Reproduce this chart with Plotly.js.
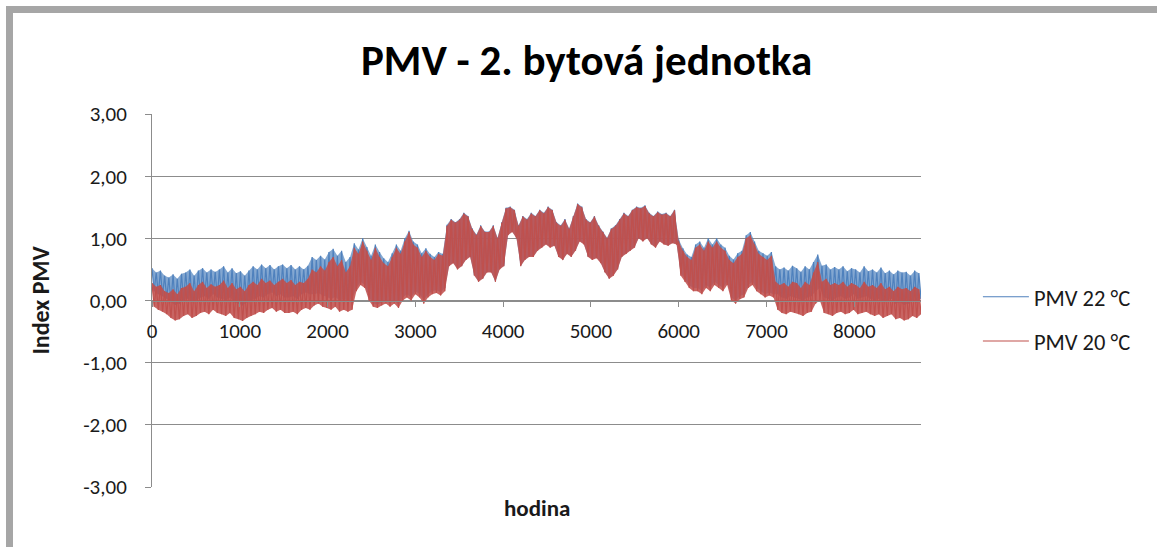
<!DOCTYPE html>
<html>
<head>
<meta charset="utf-8">
<script src="https://cdn.plot.ly/plotly-3.0.1.min.js"></script>
<style>
  html, body { margin: 0; padding: 0; background: #ffffff; }
  #frame { position: absolute; left: 6px; top: 6px; width: 1200px; height: 600px;
           border-left: 7px solid #a6a6a6; border-top: 7px solid #a6a6a6; box-sizing: border-box; }
  #chart { position: absolute; left: 0; top: 0; width: 1157px; height: 547px; }
</style>
</head>
<body>
<div id="frame"></div>
<div id="chart"></div>
<script>
// Hour step between daily max / min readings
const stepHours = 24;

// PMV 20 °C – daily maxima and minima (every 48 h)
const pmv20Max = [0.28,0.22,0.25,0.15, 0.12,0.18,0.10,0.20, 0.22,0.28,0.15,0.25, 0.30,0.20,0.26,0.22,
 0.25,0.32,0.20,0.28, 0.18,0.22,0.15,0.25, 0.30,0.25,0.35,0.28, 0.32,0.25,0.30,0.35, 0.28,0.33,0.25,0.30,
 0.28,0.35, 0.50,0.45,0.55,0.48, 0.62,0.70,0.55,0.65, 0.45,0.55, 0.85,0.75,0.95, 0.80,0.65,0.85,0.70,0.60,
 0.55,0.70,0.85,0.75, 0.95,1.10,0.90, 0.85,0.70,0.80, 0.70,0.65,0.75,0.72, 1.20,1.30,1.25,1.30, 1.40,1.35,
 1.15,1.05,1.20,1.10, 1.10,1.20,1.00,1.25, 1.48,1.50,1.45, 1.20,1.35,1.30, 1.40,1.35,1.45,1.40,1.50,1.45,
 1.25,1.20,1.30,1.15,1.35, 1.55,1.50, 1.30,1.25,1.35,1.20, 1.10,1.00,1.15,1.20, 1.30,1.40,1.35,1.45,
 1.50,1.48,1.52, 1.40,1.35,1.42,1.38,1.40,1.35,1.45, 0.95,0.80,0.70,0.65, 0.85,0.90,0.80,0.95,0.85,
 0.95,0.85,0.80, 0.65,0.60,0.70,0.75, 1.00,1.05,0.90, 0.75,0.70,0.65,0.72, 0.30,0.25,0.28,0.22,0.30,
 0.28,0.20,0.30,0.25, 0.45,0.62, 0.30,0.35,0.25,0.28, 0.25,0.30,0.22,0.28,0.25,0.20,0.30,0.22,
 0.25,0.20,0.28,0.18,0.22, 0.15,0.22,0.18, 0.20,0.15,0.22,0.18];

const pmv20Min = [-0.10,-0.15,-0.18,-0.22, -0.28,-0.32,-0.30,-0.25, -0.22,-0.28,-0.25,-0.20, -0.18,-0.22,-0.15,-0.20,
 -0.22,-0.25,-0.20,-0.28, -0.30,-0.33,-0.28,-0.25, -0.22,-0.18,-0.20,-0.15, -0.12,-0.18,-0.15,-0.20, -0.20,-0.18,-0.22,-0.15,
 -0.12,-0.15, -0.08,-0.05,-0.10,-0.12, -0.15,-0.10,-0.18,-0.15, -0.18,-0.15, 0.15,0.25,0.20, 0.00,-0.10,-0.12,-0.08,-0.05,
 -0.10,-0.05,-0.12,0.00, 0.05,0.00,0.10, 0.05,-0.05,0.05, 0.10,0.12,0.08,0.15, 0.55,0.60,0.50,0.55, 0.65,0.70,
 0.40,0.30,0.35,0.45, 0.45,0.30,0.50,0.55, 1.05,1.10,1.00, 0.55,0.65,0.70, 0.70,0.80,0.85,0.90,0.85,0.88,
 0.70,0.65,0.75,0.70,0.80, 0.95,0.90, 0.70,0.65,0.68,0.60, 0.45,0.35,0.40,0.50, 0.70,0.75,0.80,0.85,
 1.00,0.95,1.00, 0.90,0.85,0.95,0.90,0.88,0.92,0.90, 0.40,0.30,0.20,0.15, 0.15,0.10,0.20,0.15,0.25,
 0.20,0.15,0.25, 0.00,-0.05,0.02,0.05, 0.20,0.25,0.15, 0.10,0.05,0.08,0.05, -0.15,-0.20,-0.22,-0.18,-0.20,
 -0.22,-0.25,-0.20,-0.18, -0.05,0.00, -0.20,-0.22,-0.25,-0.20, -0.18,-0.22,-0.20,-0.15,-0.22,-0.20,-0.18,-0.22,
 -0.25,-0.22,-0.28,-0.25,-0.22, -0.30,-0.28,-0.32, -0.30,-0.25,-0.28,-0.22];

// PMV 22 °C – daily maxima and minima
const pmv22Max = [0.52,0.45,0.48,0.40, 0.37,0.42,0.35,0.43, 0.45,0.50,0.40,0.48, 0.52,0.45,0.50,0.46,
 0.50,0.55,0.45,0.52, 0.44,0.47,0.40,0.48, 0.55,0.50,0.58,0.52, 0.57,0.50,0.55,0.58, 0.52,0.57,0.50,0.55,
 0.50,0.56, 0.70,0.65,0.72,0.66, 0.78,0.83,0.72,0.80, 0.62,0.70, 0.92,0.82,1.00, 0.86,0.72,0.90,0.78,0.68,
 0.62,0.76,0.90,0.80, 1.00,1.12,0.95, 0.90,0.76,0.84, 0.75,0.70,0.78,0.75, 1.22,1.31,1.26,1.31, 1.41,1.36,
 1.16,1.06,1.21,1.11, 1.11,1.21,1.01,1.26, 1.49,1.51,1.46, 1.21,1.36,1.31, 1.41,1.36,1.46,1.41,1.51,1.46,
 1.26,1.21,1.31,1.16,1.36, 1.56,1.51, 1.31,1.26,1.36,1.21, 1.11,1.01,1.16,1.21, 1.31,1.41,1.36,1.46,
 1.51,1.49,1.53, 1.41,1.36,1.43,1.39,1.41,1.36,1.46, 0.98,0.84,0.74,0.70, 0.90,0.95,0.85,1.00,0.90,
 1.00,0.90,0.85, 0.72,0.66,0.76,0.80, 1.05,1.10,0.95, 0.80,0.76,0.72,0.78, 0.55,0.50,0.53,0.48,0.56,
 0.52,0.46,0.55,0.50, 0.62,0.74, 0.56,0.58,0.50,0.54, 0.50,0.55,0.47,0.52,0.50,0.45,0.55,0.47,
 0.50,0.45,0.53,0.44,0.48, 0.42,0.48,0.45, 0.46,0.40,0.48,0.44];

const pmv22Min = [0.15,0.10,0.07,0.03, -0.03,-0.07,-0.05,0.00, 0.03,-0.03,0.00,0.05, 0.07,0.03,0.10,0.05,
 0.03,0.00,0.05,-0.03, -0.05,-0.08,-0.03,0.00, 0.03,0.07,0.05,0.10, 0.13,0.07,0.10,0.05, 0.05,0.07,0.03,0.10,
 0.13,0.10, 0.10,0.12,0.08,0.06, 0.02,0.06,0.00,0.02, 0.00,0.02, 0.20,0.30,0.25, 0.05,-0.05,-0.07,-0.03,0.00,
 -0.05,0.00,-0.07,0.05, 0.10,0.05,0.15, 0.10,0.00,0.10, 0.15,0.17,0.13,0.20, 0.56,0.61,0.51,0.56, 0.66,0.71,
 0.41,0.31,0.36,0.46, 0.46,0.31,0.51,0.56, 1.06,1.11,1.01, 0.56,0.66,0.71, 0.71,0.81,0.86,0.91,0.86,0.89,
 0.71,0.66,0.76,0.71,0.81, 0.96,0.91, 0.71,0.66,0.69,0.61, 0.46,0.36,0.41,0.51, 0.71,0.76,0.81,0.86,
 1.01,0.96,1.01, 0.91,0.86,0.96,0.91,0.89,0.93,0.91, 0.44,0.34,0.24,0.20, 0.20,0.15,0.25,0.20,0.30,
 0.25,0.20,0.30, 0.05,0.00,0.07,0.10, 0.25,0.30,0.20, 0.15,0.10,0.13,0.10, 0.10,0.05,0.03,0.07,0.05,
 0.03,0.00,0.05,0.07, 0.15,0.20, 0.05,0.03,0.00,0.05, 0.07,0.03,0.05,0.10,0.03,0.05,0.07,0.03,
 0.00,0.03,-0.03,0.00,0.03, -0.05,-0.03,-0.07, -0.05,0.00,-0.03,0.03];

const seriesNames = ['PMV 22 °C', 'PMV 20 °C'];
const yTicks = [-3, -2, -1, 0, 1, 2, 3];
const xTicks = [0, 1000, 2000, 3000, 4000, 5000, 6000, 7000, 8000];

// hour positions of the daily max / min readings
const maxHours = pmv20Max.map((_, i) => i * 2 * stepHours);
const minHours = pmv20Min.map((_, i) => i * 2 * stepHours + stepHours);

// interleave daily max / min into one hourly line
function interleave(maxArr, minArr) {
  const x = [], y = [];
  for (let i = 0; i < maxArr.length; i++) {
    x.push(maxHours[i]); y.push(maxArr[i]);
    x.push(minHours[i]); y.push(minArr[i]);
  }
  return {x, y};
}

const s22 = interleave(pmv22Max, pmv22Min);
const s20 = interleave(pmv20Max, pmv20Min);

const FONT = 'Carlito, Lato, "Open Sans", sans-serif';
const yLabels = yTicks.map(v => v.toFixed(2).replace('.', ','));

function band(maxArr, minArr, fillcolor) {
  return [
    {x: maxHours, y: maxArr, type: 'scatter', mode: 'lines', line: {width: 0, simplify: false},
     showlegend: false, hoverinfo: 'skip'},
    {x: minHours, y: minArr, type: 'scatter', mode: 'lines', line: {width: 0, simplify: false},
     fill: 'tonexty', fillcolor: fillcolor, showlegend: false, hoverinfo: 'skip'}
  ];
}

const traces = [
  ...band(pmv22Max, pmv22Min, 'rgba(79,129,189,0.70)'),
  {x: s22.x, y: s22.y, type: 'scatter', mode: 'lines', name: seriesNames[0],
   line: {color: '#4f81bd', width: 1.2, simplify: false}, legendgroup: 'a'},
  ...band(pmv20Max, pmv20Min, 'rgba(192,80,77,0.88)'),
  {x: s20.x, y: s20.y, type: 'scatter', mode: 'lines', name: seriesNames[1],
   line: {color: '#c0504d', width: 1.2, simplify: false}, legendgroup: 'b'}
];

const layout = {
  width: 1157, height: 547,
  paper_bgcolor: 'rgba(0,0,0,0)', plot_bgcolor: 'rgba(0,0,0,0)',
  margin: {l: 152, r: 236, t: 114, b: 60},
  font: {family: FONT, color: '#1a1a1a', size: 21},
  title: {text: '<b>PMV - 2. bytová jednotka</b>', font: {family: FONT, size: 43, color: '#000'},
          x: 0.507, xanchor: 'center', y: 0.89, yanchor: 'middle'},
  showlegend: true,
  legend: {x: 1.074, xanchor: 'left', y: 0.45, yanchor: 'middle', font: {size: 22.5, family: FONT},
           itemwidth: 46, traceorder: 'grouped', tracegroupgap: 12, bgcolor: 'rgba(0,0,0,0)'},
  xaxis: {range: [0, 8760], tickvals: xTicks, ticktext: xTicks.map(String),
          anchor: 'free', position: 0.5, showline: true, linecolor: '#8c8c8c', linewidth: 1,
          ticks: 'outside', ticklen: 5, tickcolor: '#8c8c8c', showgrid: false, zeroline: false,
          ticklabelstandoff: 6, tickfont: {size: 21, family: FONT}},
  yaxis: {range: [-3, 3], tickvals: yTicks, ticktext: yLabels, showline: true, linecolor: '#8c8c8c',
          ticks: 'outside', ticklen: 6, tickcolor: '#8c8c8c', showgrid: true, gridcolor: '#8c8c8c',
          gridwidth: 1, zeroline: false, ticklabelstandoff: 14, tickfont: {size: 21, family: FONT}},
  annotations: [
    {text: '<b>hodina</b>', xref: 'paper', yref: 'paper', x: 0.5, y: -0.055,
     xanchor: 'center', yanchor: 'middle', showarrow: false, font: {size: 23, family: FONT}},
    {text: '<b>Index PMV</b>', xref: 'paper', yref: 'paper', x: -0.1456, y: 0.5, textangle: -90,
     xanchor: 'center', yanchor: 'middle', showarrow: false, font: {size: 24, family: FONT}}
  ]
};

Plotly.newPlot('chart', traces, layout, {displayModeBar: false, staticPlot: true});
</script>
</body>
</html>
